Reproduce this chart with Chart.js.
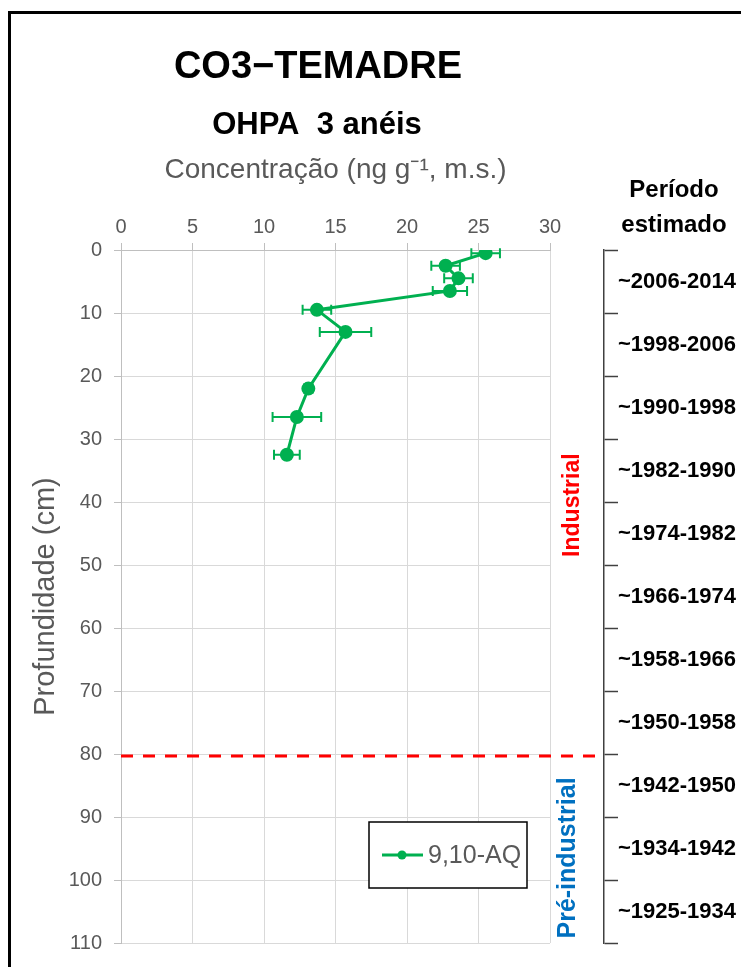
<!DOCTYPE html>
<html>
<head>
<meta charset="utf-8">
<script src="https://cdn.jsdelivr.net/npm/chart.js@4.4.1/dist/chart.umd.min.js"></script>
<style>
    body { margin: 0; background: #fff; }
    #frame { position: absolute; left: 8px; top: 11px; width: 780px; height: 1000px; border: 3px solid #000; }
    #wrap { position: absolute; left: 0; top: 0; width: 741px; height: 967px; }
</style>
</head>
<body>
<div id="frame"></div>
<div id="wrap"><canvas id="js--chart"></canvas></div>
<script>
// profundidade (cm) e concentração (ng/g)
const depths = [0.5, 2.5, 4.5, 6.5, 9.5, 13, 22, 26.5, 32.5];
const concentration = [25.5, 22.7, 23.6, 23.0, 13.7, 15.7, 13.1, 12.3, 11.6];
const concentrationErr = [1.0, 1.0, 1.0, 1.2, 1.0, 1.8, 0.3, 1.7, 0.9];
const periods = [
    "~2006-2014", "~1998-2006", "~1990-1998", "~1982-1990", "~1974-1982", "~1966-1974",
    "~1958-1966", "~1950-1958", "~1942-1950", "~1934-1942", "~1925-1934"
];
const boundaryDepth = 80;
const seriesName = "9,10-AQ";
const chartTitle = "CO3\u2212TEMADRE";
const chartSubtitle = "OHPA  3 anéis";

const green = '#00B050';
const grey = '#595959';
const font = "'Liberation Sans', Arial, sans-serif";
Chart.defaults.font.family = font;

const points = [];
for (let i = 0; i < depths.length; i++) {
    points.push({ x: concentration[i], y: depths[i] });
}

// barras de erro por baixo dos pontos
const errorBars = {
    id: 'errorBars',
    beforeDatasetsDraw(chart) {
        const ctx = chart.ctx;
        const x = chart.scales.x;
        const y = chart.scales.y;
        ctx.save();
        ctx.strokeStyle = green;
        ctx.lineWidth = 2;
        for (let i = 0; i < depths.length; i++) {
            const py = y.getPixelForValue(depths[i]);
            const x1 = x.getPixelForValue(concentration[i] - concentrationErr[i]);
            const x2 = x.getPixelForValue(concentration[i] + concentrationErr[i]);
            ctx.beginPath();
            ctx.moveTo(x1, py); ctx.lineTo(x2, py);
            ctx.moveTo(x1, py - 5); ctx.lineTo(x1, py + 5);
            ctx.moveTo(x2, py - 5); ctx.lineTo(x2, py + 5);
            ctx.stroke();
        }
        ctx.restore();
    }
};

const extras = {
    id: 'extras',
    afterDraw(chart) {
        const ctx = chart.ctx;
        const area = chart.chartArea;
        const y = chart.scales.y;
        const y2 = chart.scales.y2;
        ctx.save();

        // linha industrial / pré-industrial
        const yb = y.getPixelForValue(boundaryDepth) + 2;
        ctx.strokeStyle = '#FF0000';
        ctx.lineWidth = 3;
        ctx.setLineDash([12, 10]);
        ctx.beginPath();
        ctx.moveTo(area.left, yb);
        ctx.lineTo(y2.left, yb);
        ctx.stroke();
        ctx.setLineDash([]);

        // titulos
        ctx.fillStyle = '#000';
        ctx.textAlign = 'center';
        ctx.textBaseline = 'alphabetic';
        ctx.font = "bold 38px " + font;
        ctx.fillText(chartTitle, 318, 78);
        ctx.font = "bold 31px " + font;
        ctx.fillText(chartSubtitle, 317, 134);

        ctx.font = "bold 24px " + font;
        ctx.fillText("Período", y2.left + 70, 197);
        ctx.fillText("estimado", y2.left + 70, 232);

        // Industrial / Pré-industrial (rodado)
        const mid = (area.right + y2.left) / 2;
        ctx.textBaseline = 'middle';
        ctx.font = "bold 23px " + font;
        ctx.save();
        ctx.translate(mid - 4, y.getPixelForValue(40.5));
        ctx.rotate(-Math.PI / 2);
        ctx.fillStyle = '#FF0000';
        ctx.fillText("Industrial", 0, 0);
        ctx.restore();
        ctx.save();
        ctx.translate(mid - 9, y.getPixelForValue(96.5));
        ctx.rotate(-Math.PI / 2);
        ctx.fillStyle = '#0070C0';
        ctx.font = "bold 25px " + font;
        ctx.fillText("Pré-industrial", 0, 0);
        ctx.restore();

        // legenda
        const lx = area.left + 248;
        const ly = area.bottom - 121;
        ctx.fillStyle = '#fff';
        ctx.fillRect(lx, ly, 158, 66);
        ctx.strokeStyle = '#000';
        ctx.lineWidth = 1.5;
        ctx.strokeRect(lx, ly, 158, 66);
        ctx.strokeStyle = green;
        ctx.lineWidth = 3;
        ctx.beginPath();
        ctx.moveTo(lx + 13, ly + 33);
        ctx.lineTo(lx + 54, ly + 33);
        ctx.stroke();
        ctx.fillStyle = green;
        ctx.beginPath();
        ctx.arc(lx + 33, ly + 33, 4.5, 0, Math.PI * 2);
        ctx.fill();
        ctx.fillStyle = grey;
        ctx.textAlign = 'left';
        ctx.textBaseline = 'alphabetic';
        ctx.font = "25px " + font;
        ctx.fillText(seriesName, lx + 59, ly + 41);

        ctx.restore();
    }
};

const data = {
    datasets: [
        {
            label: seriesName,
            data: points,
            showLine: true,
            borderColor: green,
            backgroundColor: green,
            borderWidth: 3,
            pointRadius: 5.5,
            pointHoverRadius: 5.5,
        }
    ]
};

const config = {
    type: 'scatter',
    data: data,
    plugins: [errorBars, extras],
    options: {
        responsive: true,
        maintainAspectRatio: false,
        animation: false,
        layout: { padding: { left: 0, right: 0, top: 0, bottom: 21 } },
        plugins: {
            legend: { display: false },
            tooltip: { enabled: false },
        },
        scales: {
            x: {
                type: 'linear',
                position: 'top',
                min: 0,
                max: 30,
                ticks: { stepSize: 5, color: grey, font: { size: 20 }, padding: 4 },
                grid: { color: '#d9d9d9', tickColor: '#bfbfbf', tickLength: 7 },
                border: { color: '#bfbfbf' },
                title: {
                    display: true,
                    text: "Concentração (ng g\u207B\u00B9, m.s.)",
                    color: grey,
                    font: { size: 28 },
                    padding: { top: 153, bottom: 0 },
                },
                afterFit: function (scale) { scale.height = 250; }
            },
            y: {
                type: 'linear',
                position: 'left',
                reverse: true,
                min: 0,
                max: 110,
                ticks: { stepSize: 10, color: grey, font: { size: 20 }, padding: 12 },
                grid: { color: '#d9d9d9', tickColor: '#bfbfbf', tickLength: 7 },
                border: { color: '#bfbfbf' },
                title: {
                    display: true,
                    text: "Profundidade (cm)",
                    color: grey,
                    font: { size: 29 },
                    padding: { top: 29, bottom: 0 },
                },
                afterFit: function (scale) { scale.width = 121; }
            },
            // espaço entre o gráfico e o eixo dos periodos
            gap: {
                type: 'linear',
                axis: 'y',
                position: 'right',
                weight: 0,
                ticks: { display: false },
                grid: { display: false },
                border: { display: false },
                afterFit: function (scale) { scale.width = 54; }
            },
            y2: {
                type: 'linear',
                axis: 'y',
                position: 'right',
                weight: 1,
                reverse: true,
                min: 0,
                max: 110,
                ticks: {
                    stepSize: 10,
                    autoSkip: false,
                    color: '#000',
                    font: { size: 22, weight: 'bold' },
                    padding: 0,
                    labelOffset: 32,
                    callback: function (value) {
                        return periods[Math.round(value / 10)] || '';
                    }
                },
                grid: { drawOnChartArea: false, tickLength: 14, tickColor: '#404040', tickWidth: 1.5 },
                border: { color: '#404040', width: 1.5 },
                afterFit: function (scale) { scale.width = 137; }
            }
        }
    }
};

const chart1 = new Chart(document.getElementById("js--chart"), config);
</script>
</body>
</html>
